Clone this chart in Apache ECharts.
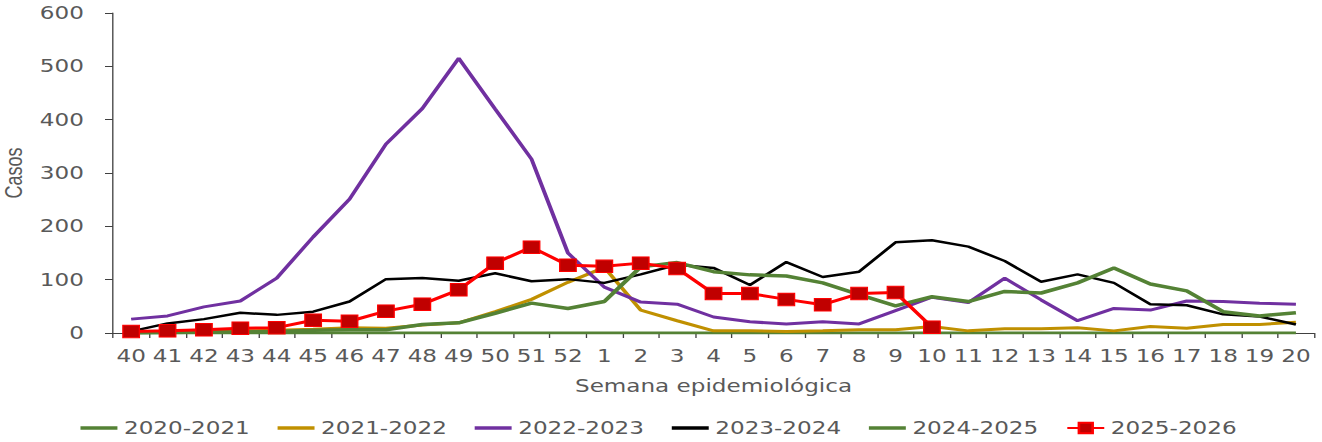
<!DOCTYPE html>
<html>
<head>
<meta charset="utf-8">
<script src="https://cdn.jsdelivr.net/npm/echarts@6/dist/echarts.min.js"></script>
<style>
  html, body { margin: 0; padding: 0; background: #fff; overflow: hidden; }
  /* the reference is stretched sideways, so draw narrow and stretch the svg */
  #grafico { width: 1002px; height: 442px; transform: scaleX(1.3194); transform-origin: 0 0; }
</style>
</head>
<body>
<div id="grafico"></div>
<script>
// semanas epidemiológicas
var semanas = ['40','41','42','43','44','45','46','47','48','49','50','51','52',
  '1','2','3','4','5','6','7','8','9','10','11','12','13','14','15','16','17','18','19','20'];

var t2020 = [0,0,0,0,0,0,0,0,0,0,0,0,0,0,0,0,0,0,0,0,0,0,0,0,0,0,0,0,0,0,0,0,0];
var t2021 = [1,2,3,4,5,7,10,9,15,19,40,63,95,123,43,23,4,4,3,4,6,6,12,4,8,8,10,4,12,9,16,16,20];
var t2022 = [26,32,49,60,103,180,251,354,421,515,420,326,150,86,58,54,30,21,17,21,17,42,67,57,103,62,23,46,43,60,59,56,54];
var t2023 = [3,18,26,38,34,40,59,101,103,98,112,97,101,94,110,128,122,90,133,105,115,170,174,162,135,96,110,94,54,52,35,31,16];
var t2024 = [0,1,2,2,3,5,6,6,16,19,37,56,46,59,124,132,115,109,107,94,72,51,68,59,78,75,94,122,92,79,40,32,38];
var t2025 = [3,4,6,9,10,24,22,41,54,81,131,161,127,125,131,121,74,74,63,53,74,76,11,
  null,null,null,null,null,null,null,null,null,null];

var ticksY = [0, 100, 200, 300, 400, 500, 600];

var gris = '#595959';
var fuente = 'DejaVu Sans, Verdana, sans-serif';
// thin bar used as legend icon for the plain lines
var iconoLinea = 'path://M0,0H40V5H0Z';

function linea(nombre, datos, color, ancho) {
    return {
        name: nombre,
        type: 'line',
        data: datos,
        symbol: 'none',
        lineStyle: { color: color, width: ancho },
        itemStyle: { color: color }
    };
}

var myChart = echarts.init(document.getElementById('grafico'), null, { renderer: 'svg' });

var option = {
    animation: false,
    backgroundColor: '#ffffff',
    grid: { left: 85.6, right: 6, top: 13, bottom: 109, outerBoundsMode: 'none' },
    legend: {
        top: 414,
        left: 56,
        itemWidth: 28,
        itemHeight: 13,
        itemGap: 21,
        textStyle: { color: gris, fontSize: 17.5, fontFamily: fuente },
        data: [
            { name: '2020-2021', icon: iconoLinea },
            { name: '2021-2022', icon: iconoLinea },
            { name: '2022-2023', icon: iconoLinea },
            { name: '2023-2024', icon: iconoLinea },
            { name: '2024-2025', icon: iconoLinea },
            { name: '2025-2026' }
        ]
    },
    xAxis: {
        type: 'category',
        data: semanas,
        boundaryGap: true,
        name: 'Semana epidemiológica',
        nameLocation: 'middle',
        nameGap: 44,
        nameTextStyle: { color: gris, fontSize: 17.5, fontFamily: fuente },
        axisLine: { lineStyle: { color: '#404040', width: 1 } },
        axisTick: { show: true, length: 5, alignWithLabel: false, lineStyle: { color: '#404040' } },
        axisLabel: { interval: 0, margin: 14, color: gris, fontSize: 17.5, fontFamily: fuente },
        splitLine: { show: false }
    },
    yAxis: {
        type: 'value',
        min: ticksY[0],
        max: ticksY[ticksY.length - 1],
        interval: 100,
        name: 'Casos',
        nameLocation: 'middle',
        nameGap: 57,
        nameRotate: 90,
        nameTextStyle: { color: gris, fontSize: 18, fontFamily: 'Liberation Sans Narrow, sans-serif' },
        axisLine: { show: true, lineStyle: { color: '#404040', width: 1 } },
        axisTick: { show: true, length: 6, lineStyle: { color: '#404040' } },
        axisLabel: { margin: 22, color: gris, fontSize: 17.5, fontFamily: fuente },
        splitLine: { show: false }
    },
    series: [
        linea('2020-2021', t2020, '#548235', 3),
        linea('2021-2022', t2021, '#C09000', 3),
        linea('2022-2023', t2022, '#7030A0', 3),
        linea('2023-2024', t2023, '#000000', 2.5),
        linea('2024-2025', t2024, '#548235', 3.5),
        {
            name: '2025-2026',
            type: 'line',
            data: t2025,
            symbol: 'rect',
            symbolSize: 12.5,
            showSymbol: true,
            connectNulls: false,
            lineStyle: { color: '#FF0000', width: 3 },
            itemStyle: { color: '#C00000', borderColor: '#FF0000', borderWidth: 1 },
            z: 5
        }
    ]
};

myChart.setOption(option);
</script>
</body>
</html>
